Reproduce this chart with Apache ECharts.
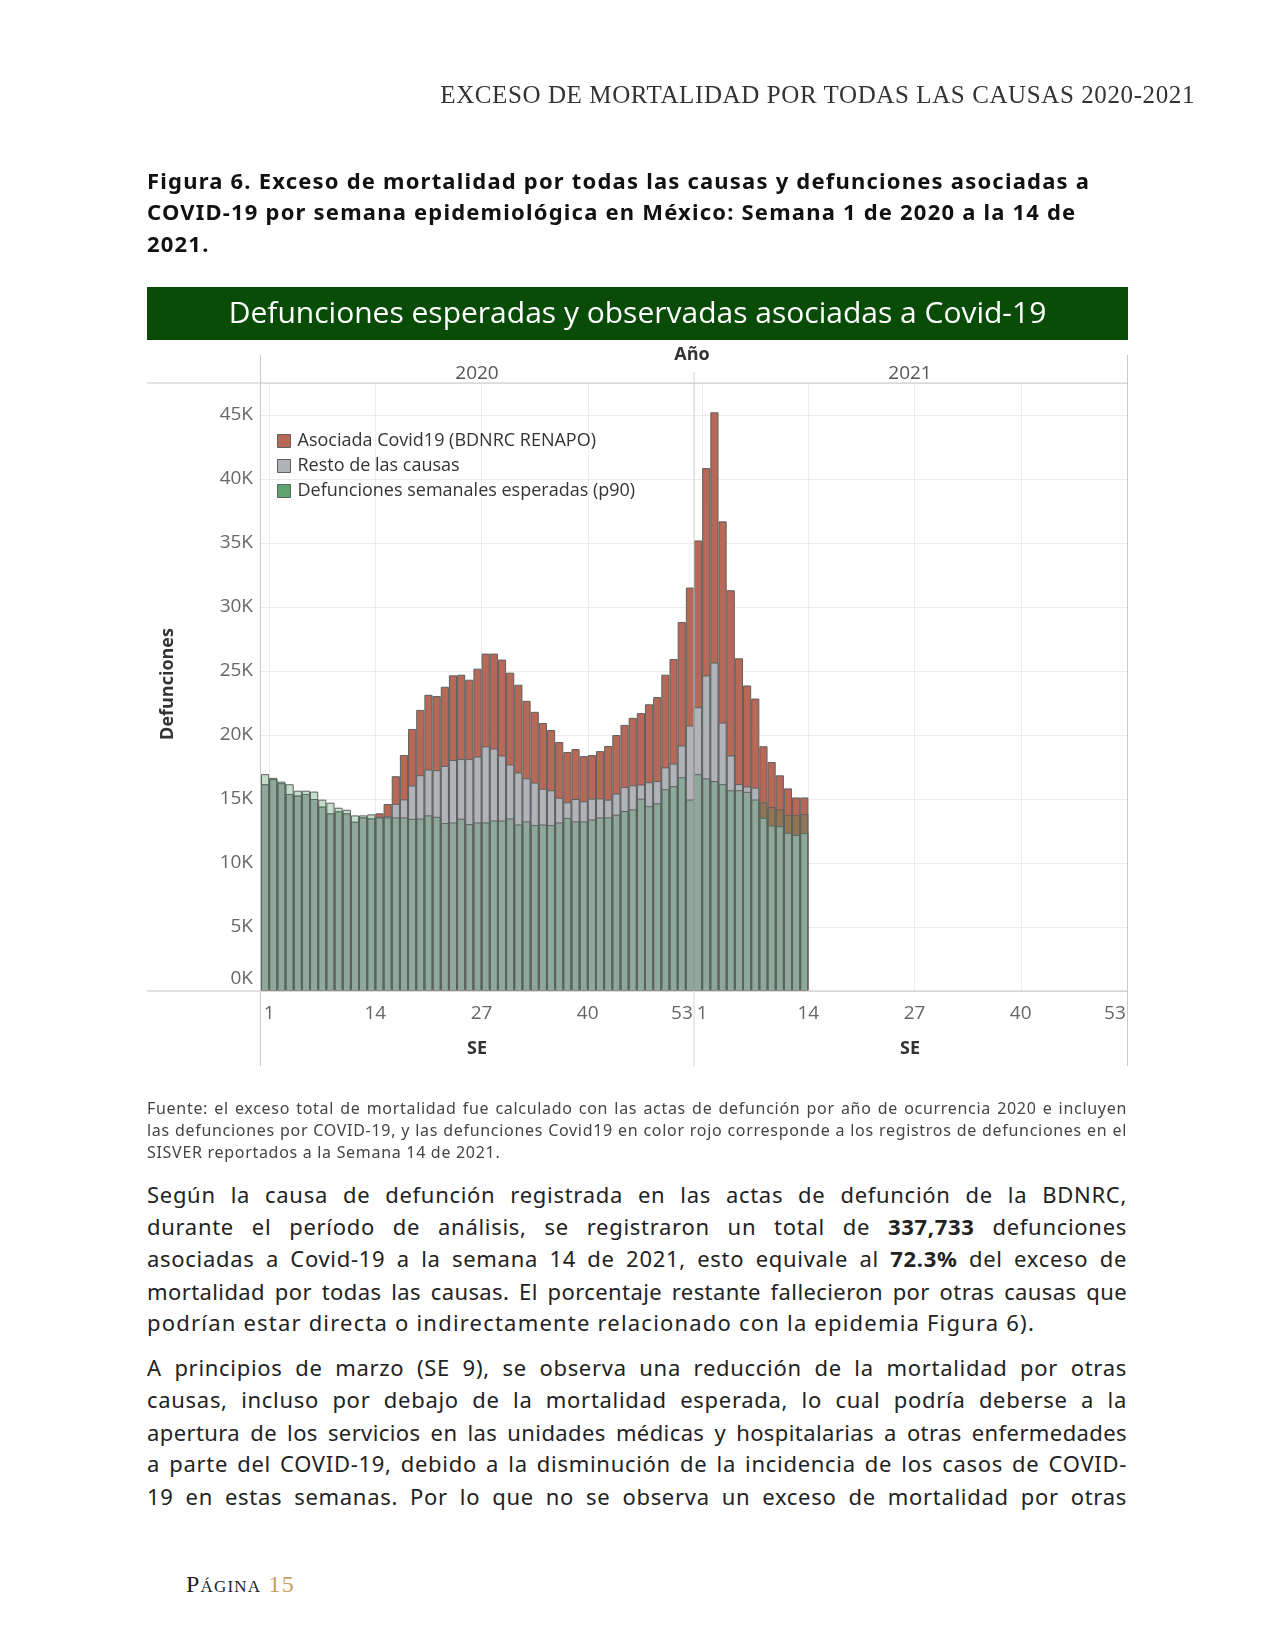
<!DOCTYPE html>
<html><head><meta charset="utf-8">
<script src="https://cdn.jsdelivr.net/npm/echarts@6/dist/echarts.min.js"></script>
<style>
html,body{margin:0;padding:0;background:#fff;width:1275px;height:1650px;overflow:hidden;}
#chart{position:absolute;left:0;top:0;width:1275px;height:1100px;}
.t{position:absolute;white-space:nowrap;z-index:5;}
.hdr{font-family:"Liberation Serif","DejaVu Serif",serif;font-size:25px;color:#333;right:80px;top:79px;line-height:32px;letter-spacing:0.6px;}
.cap{font-family:"Noto Sans",sans-serif;font-weight:bold;font-size:22px;letter-spacing:1.2px;color:#111;left:147px;line-height:32px;}
.src{font-family:"Noto Sans",sans-serif;font-size:16px;letter-spacing:0.7px;color:#444;left:147px;width:980px;line-height:22px;}
.body{font-family:"Noto Sans",sans-serif;font-size:22px;letter-spacing:0.7px;color:#222;left:147px;width:980px;line-height:32px;}
.j{text-align:justify;text-align-last:justify;}
.pg{font-family:"Liberation Serif",serif;font-size:24px;letter-spacing:1.2px;color:#222;left:186px;top:1571px;font-variant:small-caps;}
.pg span{color:#c9a063;}
</style>
</head><body>
<div id="chart"></div>
<div class="t hdr">EXCESO DE MORTALIDAD POR TODAS LAS CAUSAS 2020-2021</div>
<div class="t cap" style="top:164px">Figura 6. Exceso de mortalidad por todas las causas y defunciones asociadas a</div>
<div class="t cap" style="top:195px">COVID-19 por semana epidemiológica en México: Semana 1 de 2020 a la 14 de</div>
<div class="t cap" style="top:227px">2021.</div>
<div class="t src j" style="top:1097px">Fuente: el exceso total de mortalidad fue calculado con las actas de defunción por año de ocurrencia 2020 e incluyen</div>
<div class="t src j" style="top:1119px">las defunciones por COVID-19, y las defunciones Covid19 en color rojo corresponde a los registros de defunciones en el</div>
<div class="t src" style="top:1141px">SISVER reportados a la Semana 14 de 2021.</div>
<div class="t body j" style="top:1178px">Según la causa de defunción registrada en las actas de defunción de la BDNRC,</div>
<div class="t body j" style="top:1210px">durante el período de análisis, se registraron un total de <b>337,733</b> defunciones</div>
<div class="t body j" style="top:1242px">asociadas a Covid-19 a la semana 14 de 2021, esto equivale al <b>72.3%</b> del exceso de</div>
<div class="t body j" style="top:1275px;letter-spacing:0.4px">mortalidad por todas las causas. El porcentaje restante fallecieron por otras causas que</div>
<div class="t body" style="top:1306px;letter-spacing:1.2px">podrían estar directa o indirectamente relacionado con la epidemia Figura 6).</div>
<div class="t body j" style="top:1351px">A principios de marzo (SE 9), se observa una reducción de la mortalidad por otras</div>
<div class="t body j" style="top:1383px">causas, incluso por debajo de la mortalidad esperada, lo cual podría deberse a la</div>
<div class="t body j" style="top:1416px;letter-spacing:0.4px">apertura de los servicios en las unidades médicas y hospitalarias a otras enfermedades</div>
<div class="t body j" style="top:1447px">a parte del COVID-19, debido a la disminución de la incidencia de los casos de COVID-</div>
<div class="t body j" style="top:1480px">19 en estas semanas. Por lo que no se observa un exceso de mortalidad por otras</div>
<div class="t pg">Página <span>15</span></div>
<script>
// ---- DATA ----
const weeks = ['1','2','3','4','5','6','7','8','9','10','11','12','13','14','15','16','17','18','19','20','21','22','23','24','25','26','27','28','29','30','31','32','33','34','35','36','37','38','39','40','41','42','43','44','45','46','47','48','49','50','51','52','53'];
const tickLabels = ['1','14','27','40','53'];
const years = ['2020','2021'];
const seriesNames = ['Asociada Covid19 (BDNRC RENAPO)','Resto de las causas','Defunciones semanales esperadas (p90)'];
// observed total deaths (top of red)
const total2020 = [16150,16550,16230,15390,15260,15390,15000,14400,13870,14030,13870,13220,13560,13480,13880,14610,16780,18430,20470,21960,23140,23040,23770,24660,24710,24320,25180,26360,26360,25890,24870,23930,22670,21810,20940,20390,19450,18670,18900,18350,18430,18740,19140,20000,20790,21340,21710,22400,22960,24710,25930,28830,31520];
// observed deaths from other causes (top of gray)
const resto2020 = [16150,16550,16230,15390,15260,15390,15000,14400,13870,14030,13870,13220,13560,13480,13600,13650,14630,14970,16050,16860,17300,17250,17590,18040,18120,18120,18320,19110,18950,18400,17700,17070,16620,16280,15810,15680,15100,14740,15000,14820,15030,15050,14950,15420,15940,16070,16140,16310,16400,17470,17770,19180,20740];
// expected weekly deaths p90 (top of green)
const expected2020 = [16940,16650,16360,16150,15650,15650,15580,14950,14710,14320,14160,13720,13720,13800,13560,13560,13560,13560,13450,13470,13720,13610,13120,13170,13460,13040,13170,13170,13320,13320,13480,13010,13250,12960,13010,12960,13170,13530,13250,13250,13400,13560,13560,13770,14060,14190,15030,14440,14660,15770,16000,16700,14960];
const total2021 = [35200,40850,45210,36690,31310,25990,23870,22850,19120,17890,16850,15830,15120,15120];
const resto2021 = [22170,24650,25660,20970,18400,16160,15980,15890,13530,12930,12870,12360,12180,12330];
const expected2021 = [16940,16610,16400,16160,15680,15680,15560,14960,14730,14370,14190,13740,13740,13830];

// ---- STYLE ----
const RED='#b86857', GRAY='#b1b3b9', GREEN_FILL='rgba(64,146,78,0.30)', GREEN_LEG='#5fa36f', EDGE='#5d6160';
const FONT='"Open Sans", "Noto Sans", sans-serif';
const PANEL=[{left:261,width:433},{left:694,width:433}];
const TOP=383, BOTTOM_Y=991;

const chart = echarts.init(document.getElementById('chart'), null, {renderer:'canvas'});

function xAxisFor(i){
  return {
    type:'category', gridIndex:i, data:weeks, boundaryGap:true,
    axisLine:{show:false}, axisTick:{show:false},
    axisLabel:{
      interval:(idx)=>tickLabels.indexOf(weeks[idx])>=0,
      margin:13,
      formatter:(v)=> v==='53' ? '{r|53}' : '{l|'+v+'}',
      rich:{
        l:{padding:[0,0,0,8],fontSize:19,color:'#666',fontFamily:FONT},
        r:{padding:[0,16,0,0],fontSize:19,color:'#666',fontFamily:FONT}
      }
    },
    splitLine:{show:true, interval:(idx)=>(idx===1||idx===14||idx===27||idx===40), lineStyle:{color:'#ececec',width:1}}
  };
}
function yAxisFor(i){
  return {
    type:'value', gridIndex:i, min:0, max:47500, interval:5000,
    axisLine:{show:false}, axisTick:{show:false},
    axisLabel:{show:i===0, margin:8, showMaxLabel:false,
      formatter:(v)=> (v%5000!==0 ? '' : (v===0 ? '{z|0K}' : '{n|'+(v/1000)+'K}')),
      rich:{
        n:{fontSize:19,color:'#666',fontFamily:FONT},
        z:{fontSize:19,color:'#666',fontFamily:FONT,padding:[0,0,24,0]}
      }},
    splitLine:{show:true, lineStyle:{color:'#ebebeb',width:1}}
  };
}
function barSeries(i, name, data, fill){
  return {
    type:'bar', name:name, xAxisIndex:i, yAxisIndex:i, data:data,
    barGap:'-100%', barCategoryGap:'0%',
    itemStyle:{color:fill, borderColor:EDGE, borderWidth:1},
    emphasis:{disabled:true}, silent:true
  };
}
const dataSets=[[total2020,resto2020,expected2020],[total2021,resto2021,expected2021]];
const series=[];
[0,1].forEach(i=>{
  series.push(barSeries(i, seriesNames[0], dataSets[i][0], RED));
  series.push(barSeries(i, seriesNames[1], dataSets[i][1], GRAY));
  series.push(barSeries(i, seriesNames[2], dataSets[i][2], GREEN_FILL));
});

const lineC='#c9c9c9';
function ln(x1,y1,x2,y2,c){return {type:'line',z:100,shape:{x1,y1,x2,y2},style:{stroke:c||lineC,lineWidth:1}};}
function tx(text,x,y,opt){
  opt=opt||{};
  return {type:'text',z:101,x:x,y:y,rotation:opt.rot||0,style:{text:text,fill:opt.fill||'#333',
    font:(opt.weight||'normal')+' '+(opt.size||18)+'px '+(opt.family||FONT),
    align:'center',verticalAlign:'middle',textAlign:'center',textVerticalAlign:'middle'}};
}

chart.setOption({
  animation:false,
  grid:PANEL.map(p=>({left:p.left,width:p.width,top:TOP,height:BOTTOM_Y-TOP,containLabel:false})),
  xAxis:[xAxisFor(0),xAxisFor(1)],
  yAxis:[yAxisFor(0),yAxisFor(1)],
  legend:{
    orient:'vertical', left:272, top:427, itemWidth:13, itemHeight:13, itemGap:7, selectedMode:false,
    icon:'rect',
    textStyle:{fontSize:18,color:'#333',fontFamily:FONT,padding:[0,0,0,2]},
    data:[
      {name:seriesNames[0],itemStyle:{color:RED,borderColor:EDGE,borderWidth:1}},
      {name:seriesNames[1],itemStyle:{color:GRAY,borderColor:EDGE,borderWidth:1}},
      {name:seriesNames[2],itemStyle:{color:GREEN_LEG,borderColor:EDGE,borderWidth:1}}
    ]
  },
  series:series,
  graphic:[
    {type:'rect',z:90,shape:{x:147,y:287,width:981,height:53},style:{fill:'#094c08'}},
    tx('Defunciones esperadas y observadas asociadas a Covid-19',637.5,314,{size:30,fill:'#ffffff'}),
    tx('Año',692,355,{weight:'bold',size:18,fill:'#333'}),
    tx(years[0],477,374,{size:19,fill:'#555'}),
    tx(years[1],910,374,{size:19,fill:'#555'}),
    tx('SE',477,1049,{weight:'bold',size:18,fill:'#333'}),
    tx('SE',910,1049,{weight:'bold',size:18,fill:'#333'}),
    tx('Defunciones',168,684,{weight:'bold',size:18,fill:'#333',rot:Math.PI/2}),
    ln(147,TOP,1127,TOP),
    ln(147,BOTTOM_Y,1127,BOTTOM_Y,'#c4c4c4'),
    ln(260.5,355,260.5,1066),
    ln(694,372,694,1066,'#d2d2d2'),
    ln(1127.5,355,1127.5,1066)
  ]
});
</script>
</body></html>
